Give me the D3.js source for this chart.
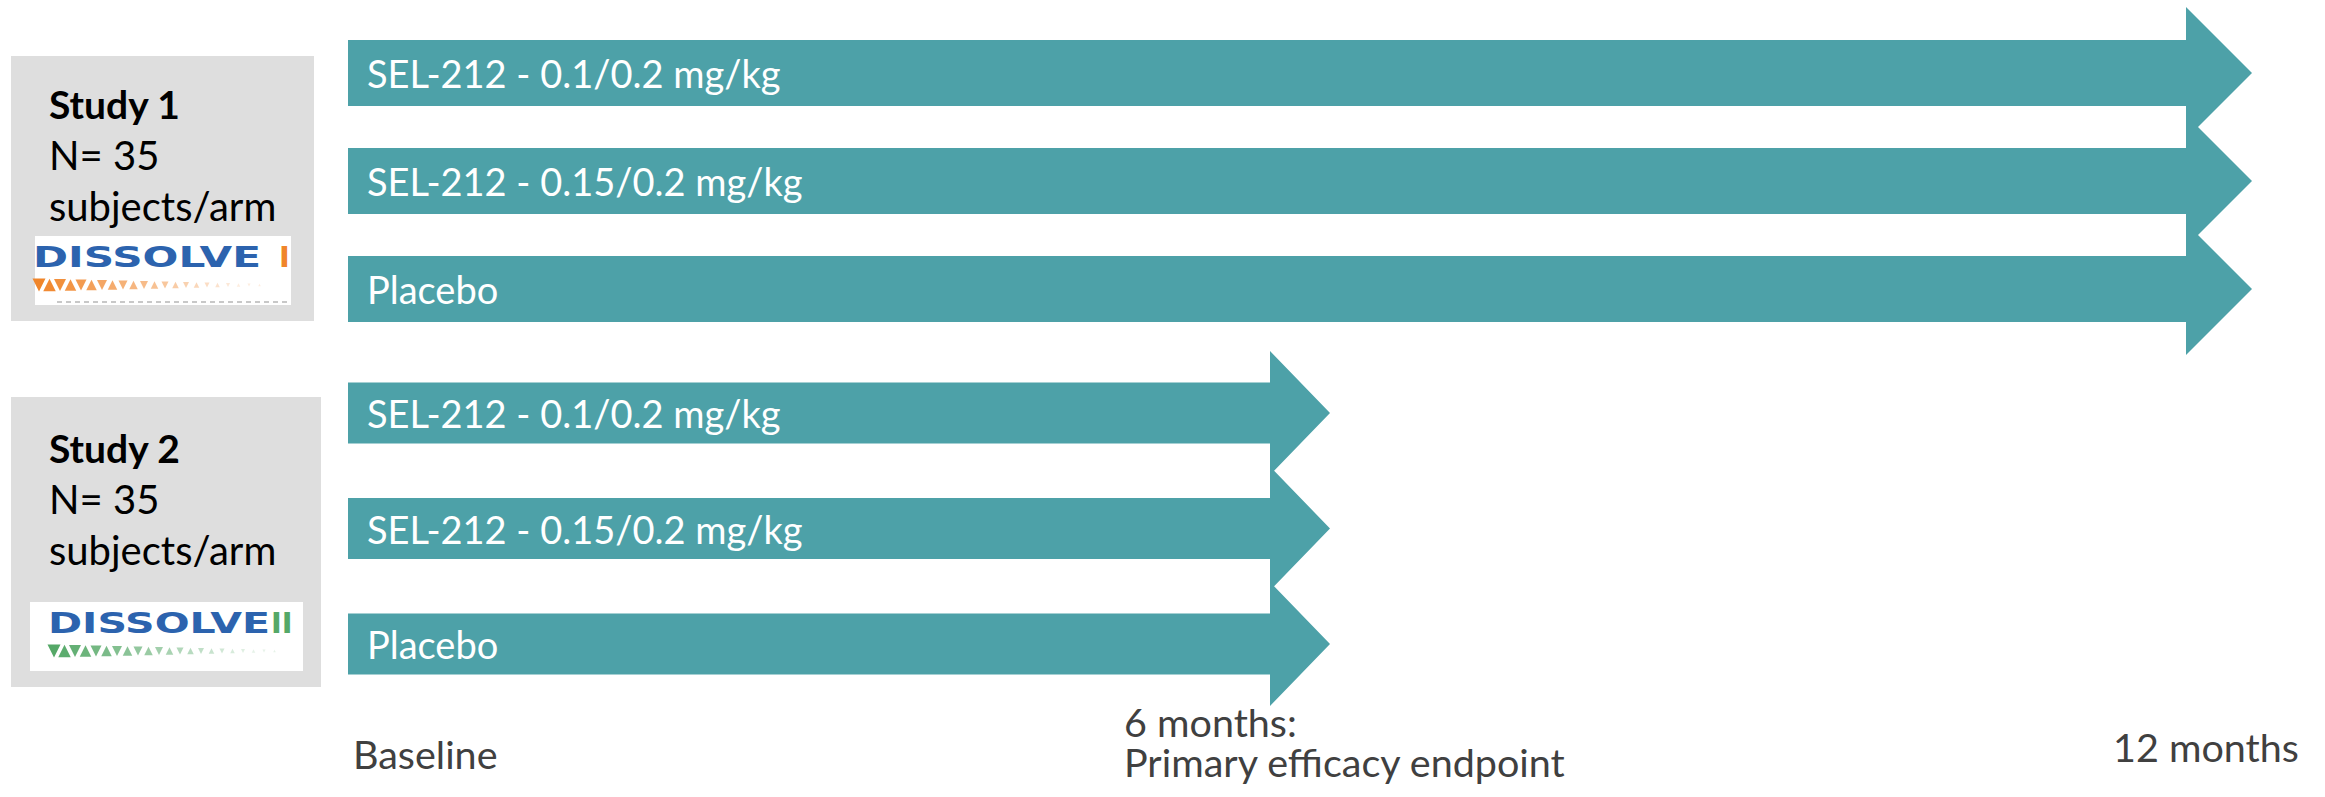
<!DOCTYPE html>
<html>
<head>
<meta charset="utf-8">
<script src="https://cdn.jsdelivr.net/npm/d3@7"></script>
<style>
  body { margin: 0; background: #fff; }
  text { font-family: Lato, "Open Sans", sans-serif; }
</style>
</head>
<body>
<div id="chart"></div>
<script>
// study info
const studies = ['Study 1', 'Study 2']
const subjectsPerArm = [35, 35]
const logoWords = ['DISSOLVE', 'DISSOLVE']
const logoNumerals = ['I', 'II']
const logoColors = ['#f0852a', '#55a867']

// arms (same three for both studies)
const arms = ['SEL-212 - 0.1/0.2 mg/kg', 'SEL-212 - 0.15/0.2 mg/kg', 'Placebo']
// how long each arm runs, in months
const study1Months = [12, 12, 12]
const study2Months = [6, 6, 6]

// time axis
const timeTicks = [0, 6, 12]
const timeLabels = [['Baseline'], ['6 months:', 'Primary efficacy endpoint'], ['12 months']]

const width = 2325
const height = 797
const teal = '#4da1a8'

const svg = d3.select('#chart')
    .append('svg')
    .attr('width', width)
    .attr('height', height)

// slide is not drawn to scale, so use a piecewise scale
const x = d3.scaleLinear()
    .domain(timeTicks)
    .range([348, 1330, 2252])

// one row scale per study
const yScales = [
    d3.scalePoint().domain(arms).range([73, 289]),
    d3.scalePoint().domain(arms).range([413, 644])
]
const durations = [study1Months, study2Months]
const shaft = [66, 61]
const head = [132, 124]
const headLen = [66, 60]
const boxTop = [56, 397]
const boxH = [265, 290]
const boxW = [303, 310]

function arrowPath(x0, x1, yc, sh, hh, hl) {
    const p = d3.path()
    p.moveTo(x0, yc - sh / 2)
    p.lineTo(x1 - hl, yc - sh / 2)
    p.lineTo(x1 - hl, yc - hh / 2)
    p.lineTo(x1, yc)
    p.lineTo(x1 - hl, yc + hh / 2)
    p.lineTo(x1 - hl, yc + sh / 2)
    p.lineTo(x0, yc + sh / 2)
    p.closePath()
    return p.toString()
}

studies.forEach((study, s) => {
    const y = yScales[s]
    const rows = arms.map((a, i) => ({ arm: a, months: durations[s][i] }))

    // arrows
    svg.append('g').selectAll('path')
        .data(rows)
        .enter()
        .append('path')
        .attr('d', d => arrowPath(x(0), x(d.months), y(d.arm), shaft[s], head[s], headLen[s]))
        .attr('fill', teal)

    svg.append('g').selectAll('text')
        .data(rows)
        .enter()
        .append('text')
        .attr('x', x(0) + 19)
        .attr('y', d => y(d.arm) + 15)
        .attr('fill', '#fff')
        .style('font-size', '38px')
        .text(d => d.arm)

    // grey study box
    const g = svg.append('g').attr('transform', `translate(11,${boxTop[s]})`)
    g.append('rect')
        .attr('width', boxW[s])
        .attr('height', boxH[s])
        .attr('fill', '#dedede')

    const lines = [study, 'N= ' + subjectsPerArm[s], 'subjects/arm']
    g.selectAll('text.info')
        .data(lines)
        .enter()
        .append('text')
        .attr('class', 'info')
        .attr('x', 38)
        .attr('y', (d, i) => 63 + i * 51 + s * 3)
        .attr('fill', '#000')
        .style('font-size', (d, i) => i == 0 ? '39px' : '40px')
        .style('font-weight', (d, i) => i == 0 ? 'bold' : 'normal')
        .text(d => d)

    // logo
    const lw = s == 0 ? 256 : 273
    const lx = s == 0 ? 24 : 19
    const ly = boxH[s] - 17 - 68
    const logo = g.append('g').attr('transform', `translate(${lx},${ly})`)
    logo.append('rect').attr('width', lw).attr('height', 69).attr('fill', '#fff')
    const wx = s == 0 ? -2 : 18
    logo.append('text')
        .attr('x', wx)
        .attr('y', 31)
        .attr('textLength', 228 - (s == 0 ? 0 : 6))
        .attr('lengthAdjust', 'spacingAndGlyphs')
        .attr('fill', '#2c63ae')
        .style('font-family', '"DejaVu Sans", sans-serif')
        .style('font-weight', 'bold')
        .style('font-size', '29px')
        .text(logoWords[s])
    logo.append('text')
        .attr('x', s == 0 ? 244 : 241)
        .attr('y', 31)
        .attr('fill', logoColors[s])
        .style('font-family', '"DejaVu Sans", sans-serif')
        .style('font-weight', 'bold')
        .style('font-size', '29px')
        .text(logoNumerals[s])
    // triangle strip, fading out to the right
    const tri = d3.range(22)
    logo.append('g').selectAll('path')
        .data(tri)
        .enter()
        .append('path')
        .attr('d', i => {
            const cx = wx + 6 + i * 10.5
            const sz = Math.max(2, 13 - i * 0.5)
            const cy = 49
            return i % 2 == 0
                ? `M${cx - sz / 2},${cy - sz / 2}L${cx + sz / 2},${cy - sz / 2}L${cx},${cy + sz / 2}Z`
                : `M${cx - sz / 2},${cy + sz / 2}L${cx + sz / 2},${cy + sz / 2}L${cx},${cy - sz / 2}Z`
        })
        .attr('fill', logoColors[s])
        .attr('opacity', i => Math.max(0.15, 1 - i * 0.045))
    if (s == 0) {
        logo.append('line')
            .attr('x1', 22).attr('x2', lw)
            .attr('y1', 66).attr('y2', 66)
            .attr('stroke', '#c8c8c8')
            .attr('stroke-width', 2)
            .attr('stroke-dasharray', '5,4')
    }
})

// time labels under the arrows
const labelX = [x(0) + 5, x(6) - 206, x(12) - 139]
const labelY = [769, 737, 762]
timeLabels.forEach((lines, i) => {
    svg.append('text')
        .attr('x', labelX[i])
        .attr('y', labelY[i])
        .attr('fill', '#404040')
        .style('font-size', '39.5px')
        .selectAll('tspan')
        .data(lines)
        .enter()
        .append('tspan')
        .attr('x', labelX[i])
        .attr('dy', (d, j) => j == 0 ? 0 : 40)
        .text(d => d)
})
</script>
</body>
</html>
